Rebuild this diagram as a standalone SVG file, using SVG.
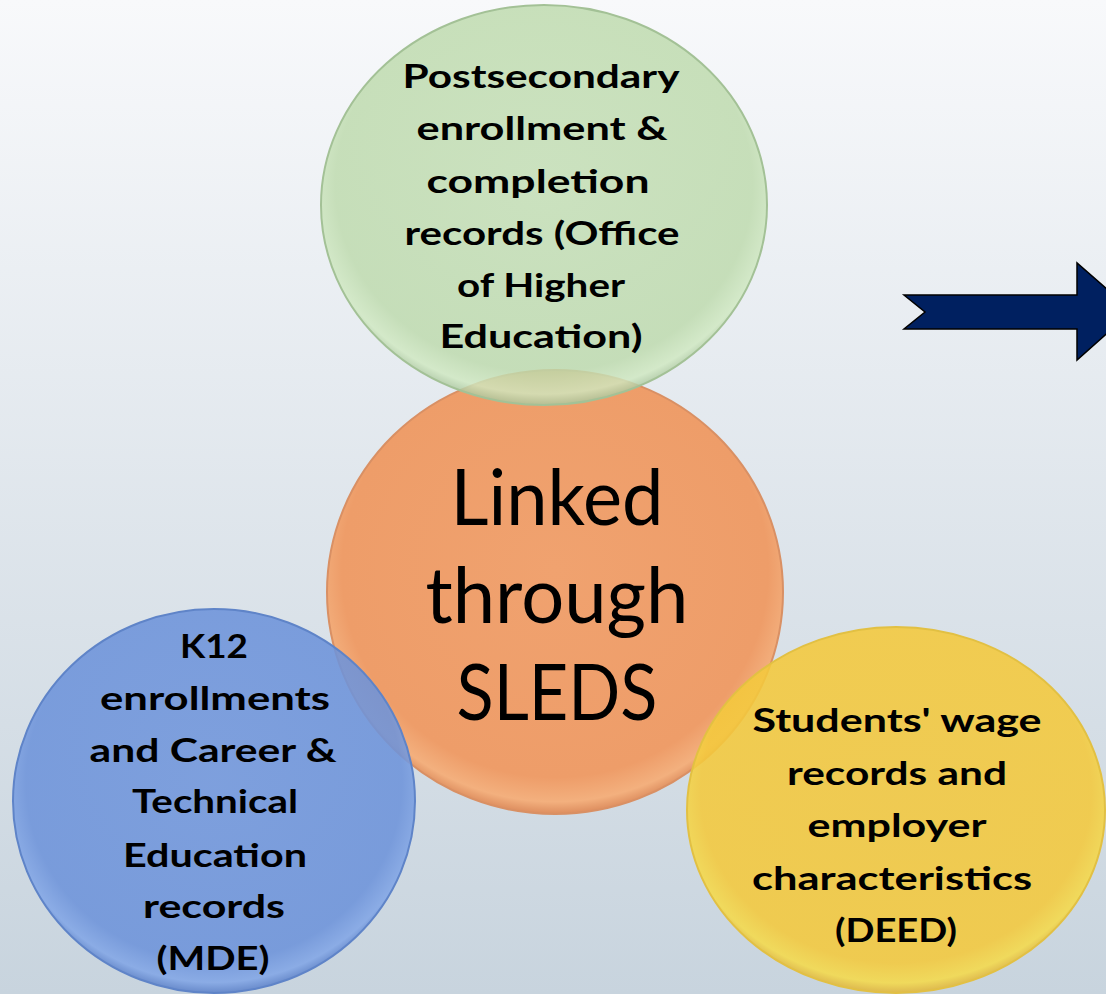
<svg xmlns="http://www.w3.org/2000/svg" width="1106" height="994" viewBox="0 0 1106 994">
<style>
.lbl{font-family:Lato,"Open Sans","Liberation Sans",sans-serif;font-weight:700;font-size:32px;text-anchor:middle;fill:#000}
.big{font-family:Lato,"Open Sans","Liberation Sans",sans-serif;font-weight:400;font-size:77px;text-anchor:middle;fill:#000}
.node{stroke-width:2}
</style>
<defs>
<linearGradient id="bg" x1="0" y1="0" x2="0" y2="1">
<stop offset="0" stop-color="#f8f9fb"/>
<stop offset="1" stop-color="#c8d4de"/>
</linearGradient>
<radialGradient id="gOrange" cx="0.5" cy="0.45" r="0.55">
<stop offset="0" stop-color="#f0a26f"/>
<stop offset="0.85" stop-color="#ee9d69"/>
<stop offset="0.95" stop-color="#f3b07e"/>
<stop offset="1" stop-color="#dd8d5e"/>
</radialGradient>
<radialGradient id="gGreen" cx="0.5" cy="0.45" r="0.55">
<stop offset="0" stop-color="#c3deb3"/>
<stop offset="0.85" stop-color="#bddaac"/>
<stop offset="0.95" stop-color="#cfe8c0"/>
<stop offset="1" stop-color="#a9c59c"/>
</radialGradient>
<radialGradient id="gBlue" cx="0.5" cy="0.45" r="0.55">
<stop offset="0" stop-color="#7297dc"/>
<stop offset="0.85" stop-color="#6d93da"/>
<stop offset="0.95" stop-color="#82a6e6"/>
<stop offset="1" stop-color="#5b80c8"/>
</radialGradient>
<radialGradient id="gYellow" cx="0.5" cy="0.45" r="0.55">
<stop offset="0" stop-color="#f3c83e"/>
<stop offset="0.85" stop-color="#f4c93c"/>
<stop offset="0.95" stop-color="#f5da4a"/>
<stop offset="1" stop-color="#e0b43a"/>
</radialGradient>
</defs>
<rect x="0" y="0" width="1106" height="994" fill="url(#bg)"/>

<g id="node-sleds">
<ellipse class="node" cx="555" cy="592" rx="228" ry="222" fill="url(#gOrange)" stroke="#d99064"/>
<text class="big" x="557" y="525" textLength="213" lengthAdjust="spacingAndGlyphs">Linked</text>
<text class="big" x="557" y="623" textLength="263" lengthAdjust="spacingAndGlyphs">through</text>
<text class="big" x="557" y="720" textLength="201" lengthAdjust="spacingAndGlyphs">SLEDS</text>
</g>

<g id="node-postsecondary">
<ellipse class="node" cx="544" cy="205" rx="223" ry="200" fill="url(#gGreen)" fill-opacity="0.82" stroke="#a3c196"/>
<text class="lbl" x="541" y="88" textLength="277" lengthAdjust="spacingAndGlyphs">Postsecondary</text>
<text class="lbl" x="542" y="140" textLength="251" lengthAdjust="spacingAndGlyphs">enrollment &amp;</text>
<text class="lbl" x="538" y="193" textLength="223" lengthAdjust="spacingAndGlyphs">completion</text>
<text class="lbl" x="542" y="245" textLength="275" lengthAdjust="spacingAndGlyphs">records (Office</text>
<text class="lbl" x="541" y="297" textLength="168" lengthAdjust="spacingAndGlyphs">of Higher</text>
<text class="lbl" x="541" y="348" textLength="203" lengthAdjust="spacingAndGlyphs">Education)</text>
</g>

<g id="node-k12">
<ellipse class="node" cx="214" cy="801" rx="201" ry="192" fill="url(#gBlue)" fill-opacity="0.88" stroke="#5f84c8"/>
<text class="lbl" x="214" y="658" textLength="68" lengthAdjust="spacingAndGlyphs">K12</text>
<text class="lbl" x="215" y="710" textLength="230" lengthAdjust="spacingAndGlyphs">enrollments</text>
<text class="lbl" x="213" y="762" textLength="247" lengthAdjust="spacingAndGlyphs">and Career &amp;</text>
<text class="lbl" x="215" y="813" textLength="166" lengthAdjust="spacingAndGlyphs">Technical</text>
<text class="lbl" x="215" y="867" textLength="184" lengthAdjust="spacingAndGlyphs">Education</text>
<text class="lbl" x="214" y="918" textLength="142" lengthAdjust="spacingAndGlyphs">records</text>
<text class="lbl" x="213" y="970" textLength="113" lengthAdjust="spacingAndGlyphs">(MDE)</text>
</g>

<g id="node-deed">
<ellipse class="node" cx="896" cy="810" rx="209" ry="183" fill="url(#gYellow)" fill-opacity="0.88" stroke="#e2c043"/>
<text class="lbl" x="897" y="732" textLength="289" lengthAdjust="spacingAndGlyphs">Students' wage</text>
<text class="lbl" x="897" y="785" textLength="220" lengthAdjust="spacingAndGlyphs">records and</text>
<text class="lbl" x="897" y="837" textLength="179" lengthAdjust="spacingAndGlyphs">employer</text>
<text class="lbl" x="892" y="890" textLength="280" lengthAdjust="spacingAndGlyphs">characteristics</text>
<text class="lbl" x="896" y="942" textLength="122" lengthAdjust="spacingAndGlyphs">(DEED)</text>
</g>

<g id="arrow">
<polygon points="904,295 1077,295 1077,263 1132,311 1077,360 1077,329 904,329 925,312" fill="#002060" stroke="#000" stroke-width="1.5" stroke-linejoin="miter"/>
</g>
</svg>
